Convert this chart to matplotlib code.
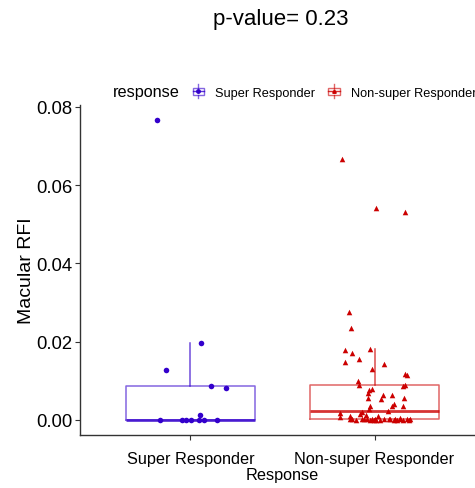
import numpy as np
import matplotlib.pyplot as plt
from matplotlib.lines import Line2D
from matplotlib.patches import Rectangle
from matplotlib.legend_handler import HandlerBase

plt.rcParams['font.family'] = ['Liberation Sans', 'DejaVu Sans']

groups = ['Super Responder', 'Non-super Responder']
colors = ['#3300CC', '#CC0000']
markers = ['o', '^']
pvalue = 0.23

# Macular RFI values
super_rfi = [0.0767, 0.0197, 0.0128, 0.0086, 0.0082, 0.0013,
             0.0, 0.0, 0.0, 0.0, 0.0, 0.0, 0.0]
super_jit = [-0.181, 0.058, -0.132, 0.114, 0.194, 0.053,
             -0.168, -0.045, -0.023, 0.002, 0.049, 0.071, 0.143]

non_rfi = [0.0667, 0.0543, 0.0532, 0.0275, 0.0236, 0.0178, 0.0181, 0.0171,
           0.0156, 0.0147, 0.0143, 0.0130, 0.0118, 0.0115, 0.0099, 0.0089,
           0.0090, 0.0086, 0.0079, 0.0077, 0.0069, 0.0063, 0.0063, 0.0055,
           0.0054, 0.0055, 0.0041, 0.0035, 0.0035, 0.0035, 0.0028, 0.0024,
           0.0019, 0.0020, 0.0015, 0.0013, 0.0011, 0.0008, 0.0010,
           0.0003, 0.0002, 0.0001, 0.0002, 0.0003, 0.0001, 0.0002, 0.0001,
           0.0002, 0.0001, 0.0003, 0.0002, 0.0001, 0.0002, 0.0001, 0.0002,
           0.0001, 0.0003, 0.0001, 0.0002, 0.0001, 0.0002, 0.0004, 0.0002]
non_jit = [-0.179, 0.009, 0.165, -0.141, -0.128, -0.158, -0.027, -0.125,
           -0.082, -0.161, 0.049, -0.016, 0.168, 0.176, -0.090, -0.087,
           0.163, 0.154, -0.016, -0.030, -0.034, 0.046, 0.096, -0.038,
           0.036, 0.160, 0.103, 0.096, 0.154, -0.023, -0.030, 0.074,
           -0.190, -0.068, -0.078, -0.049, 0.020, -0.190, -0.136,
           -0.136, -0.123, -0.101, -0.068, -0.060, -0.023, -0.014, -0.005,
           0.004, 0.031, 0.053, 0.078, 0.103, 0.112, 0.121, 0.136,
           0.154, 0.176, 0.185, 0.194, 0.010, -0.040, 0.140, 0.085]

data = [super_rfi, non_rfi]
jits = [super_jit, non_jit]


class BoxKey(HandlerBase):
    # little boxplot glyph like the ggplot legend key
    def create_artists(self, legend, orig_handle, xdescent, ydescent,
                       width, height, fontsize, trans):
        c = orig_handle.get_color()
        x0, y0 = -xdescent, -ydescent
        cx, cy = x0 + width / 2, y0 + height / 2
        rect = Rectangle((x0 + 0.05 * width, y0 + 0.2 * height), 0.9 * width, 0.6 * height,
                         fill=False, edgecolor=c, alpha=0.6, lw=1, transform=trans)
        wl1 = Line2D([cx, cx], [y0 - 0.1 * height, y0 + 0.2 * height], color=c, alpha=0.6, lw=1, transform=trans)
        wl2 = Line2D([cx, cx], [y0 + 0.8 * height, y0 + 1.1 * height], color=c, alpha=0.6, lw=1, transform=trans)
        ml = Line2D([x0 + 0.05 * width, x0 + 0.95 * width], [cy, cy], color=c, alpha=0.8, lw=1, transform=trans)
        pt = Line2D([cx], [cy], marker=orig_handle.get_marker(), color=c, ms=2.5, ls='', transform=trans)
        return [rect, wl1, wl2, ml, pt]


fig = plt.figure(figsize=(4.75, 4.89), dpi=100)
ax = fig.add_axes([80 / 475, 53 / 489, 405 / 475, 330.4 / 489])

for i in range(2):
    pos = i + 1
    bp = ax.boxplot(data[i], positions=[pos], widths=0.7, showfliers=False,
                    whis=1.5, showcaps=False, patch_artist=False)
    for b in bp['boxes']:
        b.set_color(colors[i]); b.set_alpha(0.6); b.set_linewidth(1.1)
    for w in bp['whiskers']:
        w.set_color(colors[i]); w.set_alpha(0.7); w.set_linewidth(1.1)
    for m in bp['medians']:
        m.set_color(colors[i]); m.set_alpha(0.8); m.set_linewidth(2)
    xs = pos + np.array(jits[i])
    ax.scatter(xs, data[i], marker=markers[i], color=colors[i], s=16, zorder=3, linewidths=0)

ax.set_xlim(0.4, 2.6)
ax.set_ylim(-0.00384, 0.0806)
ax.set_yticks([0.00, 0.02, 0.04, 0.06, 0.08])
ax.set_yticklabels(['0.00', '0.02', '0.04', '0.06', '0.08'])
ax.set_xticks([1, 2])
ax.set_xticklabels(groups)
ax.tick_params(axis='y', labelsize=13.3, length=3.5, width=0.8, color='#333333', pad=2)
ax.tick_params(axis='x', labelsize=11.7, length=3.5, width=0.8, color='#333333', pad=8)
for s in ['top', 'right']:
    ax.spines[s].set_visible(False)
for s in ['left', 'bottom']:
    ax.spines[s].set_color('#333333')
    ax.spines[s].set_linewidth(1)
ax.set_ylabel('Macular RFI', fontsize=14, labelpad=1)
ax.set_xlabel('Response', fontsize=11.7, labelpad=1)

fig.text(281 / 475, 1 - 20 / 489, 'p-value= %.2f' % pvalue, fontsize=16,
         ha='center', va='center')
fig.text(113 / 475, 1 - 93 / 489, 'response', fontsize=11.7, ha='left', va='center')

handles = [Line2D([], [], color=colors[i], marker=markers[i]) for i in range(2)]
fig.legend(handles, groups, handler_map={Line2D: BoxKey()}, ncol=2,
           loc='center left', bbox_to_anchor=(192 / 475, 1 - 93 / 489),
           frameon=False, fontsize=9.2, handlelength=1.0, handleheight=1.0,
           handletextpad=0.8, columnspacing=1.0, borderpad=0, borderaxespad=0)

fig.savefig('out.png', dpi=100)
